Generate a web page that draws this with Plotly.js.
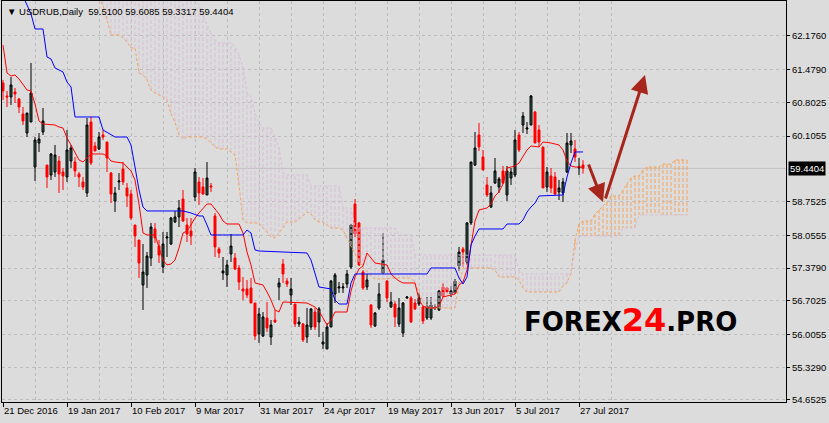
<!DOCTYPE html>
<html><head><meta charset="utf-8">
<script src="https://cdn.plot.ly/plotly-3.0.1.min.js"></script>
<style>html,body{margin:0;padding:0;background:#dcdcdc;}#chart{width:829px;height:423px;}</style>
</head><body><div id="chart"></div>
<script>
const symbolTitle = 'USDRUB,Daily';
const dateLabels = ['21 Dec 2016','19 Jan 2017','10 Feb 2017','9 Mar 2017','31 Mar 2017','24 Apr 2017','19 May 2017','13 Jun 2017','5 Jul 2017','27 Jul 2017'];
const priceTicks = [62.1760, 61.4790, 60.8025, 60.1055, 58.7525, 58.0555, 57.3790, 56.7025, 56.0055, 55.3290, 54.6525];

const open = [61.205,60.936,60.915,61.019,60.874,60.563,60.171,60.398,59.468,59.964,
 60.191,59.509,59.303,59.365,59.592,59.365,59.262,59.592,59.572,59.324,
 59.159,58.931,60.398,59.902,59.841,60.129,59.985,59.344,58.765,59.159,
 59.427,59.035,58.910,58.269,57.959,57.029,57.236,57.587,58.187,57.835,
 57.401,58.001,57.876,58.332,58.435,58.807,58.269,58.145,58.848,59.159,
 59.055,58.890,59.076,58.456,57.773,57.277,57.236,57.670,57.587,57.381,
 56.947,56.947,56.967,56.657,56.017,55.975,56.347,55.954,56.306,56.988,
 57.463,57.112,56.822,56.636,56.223,56.223,55.954,56.161,56.471,56.265,
 55.810,55.707,56.161,56.843,56.967,56.967,57.050,57.401,58.703,58.311,
 57.298,56.988,56.616,56.182,56.554,57.277,57.112,56.575,56.636,56.223,
 56.037,56.761,56.761,56.657,56.636,56.575,56.347,56.347,56.554,56.513,
 56.988,56.967,56.843,56.864,57.422,57.773,57.505,58.311,59.509,60.129,
 59.675,59.097,58.641,59.138,59.055,59.386,58.890,59.241,59.303,60.129,
 60.336,60.253,60.336,60.605,60.233,59.882,59.055,59.283,59.262,58.952,
 58.931,59.365,59.923,59.841,59.447,59.5100];
const high = [61.267,61.039,61.328,61.101,60.894,60.708,60.584,61.618,60.088,60.171,
 60.687,59.509,59.758,59.923,59.696,59.447,60.233,59.923,59.675,59.365,
 59.262,60.481,60.502,59.985,60.191,60.233,59.985,59.365,59.055,59.344,
 59.572,59.138,58.993,58.269,57.959,57.876,57.711,58.311,58.311,57.959,
 58.125,58.125,58.435,58.559,58.786,58.993,58.414,58.414,59.447,59.262,
 59.241,59.572,59.138,58.518,57.815,57.608,57.546,58.083,57.691,57.443,
 57.195,57.133,57.174,56.657,56.554,56.471,56.678,56.306,56.513,57.174,
 57.567,57.174,57.174,56.636,56.368,56.244,56.554,56.554,56.554,56.575,
 56.058,56.244,57.133,57.277,57.091,57.071,57.339,58.290,58.807,58.332,
 57.339,57.257,56.636,56.471,57.071,58.104,57.133,56.885,56.698,56.761,
 56.678,56.802,56.802,56.740,56.864,56.595,56.781,56.781,56.636,56.926,
 57.071,56.988,57.009,57.153,57.815,57.815,58.332,59.572,60.191,60.378,
 59.820,59.262,59.076,59.654,59.262,59.489,59.489,59.447,60.233,60.191,
 60.605,60.398,60.956,60.626,60.336,59.882,59.468,59.447,59.365,59.200,
 59.241,60.171,60.171,60.026,59.654,59.6085];
const low = [60.853,60.708,60.750,60.791,60.584,60.336,60.088,60.398,59.179,59.779,
 60.129,59.035,59.200,59.262,58.931,58.993,59.159,59.447,59.262,59.055,
 58.993,58.848,59.509,59.799,59.820,60.026,59.365,58.724,58.538,58.993,
 59.097,58.641,58.373,57.815,57.174,56.513,56.967,57.422,57.897,57.484,
 57.277,57.608,57.856,58.311,58.228,58.332,57.918,57.856,58.765,58.683,
 58.890,58.890,58.952,57.608,57.587,57.133,56.988,57.505,57.339,56.926,
 56.719,56.761,56.657,55.893,55.831,55.954,56.058,55.789,56.244,56.719,
 57.071,56.988,56.616,56.161,56.161,55.851,55.831,56.099,56.099,55.954,
 55.707,55.707,56.161,56.657,56.864,56.864,56.967,57.360,58.021,57.422,
 56.926,56.926,56.141,56.161,56.513,57.277,56.678,56.554,56.161,56.161,
 55.954,56.740,56.244,56.513,56.595,56.223,56.306,56.306,56.513,56.492,
 56.781,56.864,56.781,56.843,57.318,57.401,57.443,58.269,59.489,59.799,
 59.406,58.848,58.621,59.117,58.931,59.117,58.765,59.097,59.262,59.779,
 60.171,60.150,60.336,59.964,59.882,59.035,58.952,58.931,58.890,58.786,
 58.745,59.344,59.758,59.572,59.303,59.3317];
const close = [61.039,60.915,61.164,60.977,60.708,60.419,60.584,60.998,60.026,60.047,
 60.419,59.262,59.737,59.716,59.324,59.283,59.820,59.861,59.386,59.262,
 59.055,60.336,59.551,59.799,60.088,60.088,59.654,58.910,58.931,59.179,
 59.159,58.869,58.414,58.042,57.484,57.298,57.629,58.228,58.001,57.649,
 57.876,58.021,58.414,58.435,58.621,58.352,58.083,58.042,59.365,58.931,
 58.910,59.241,59.055,57.815,57.691,57.318,57.443,57.835,57.360,57.091,
 56.905,56.822,56.657,55.975,56.430,56.368,56.141,56.203,56.265,57.071,
 57.257,57.050,56.947,56.223,56.265,55.893,56.203,56.534,56.161,56.534,
 55.851,56.161,57.112,57.236,56.988,56.988,57.257,58.269,58.083,57.443,
 56.967,57.133,56.203,56.451,56.843,57.546,56.761,56.678,56.368,56.554,
 56.657,56.781,56.265,56.534,56.761,56.285,56.595,56.616,56.575,56.905,
 56.802,56.885,56.905,57.112,57.711,57.711,58.311,59.572,59.861,59.882,
 59.406,58.890,58.931,59.386,59.221,59.138,59.386,59.365,60.026,59.820,
 60.522,60.274,60.936,59.964,59.985,59.035,59.365,59.035,58.910,59.035,
 59.159,59.964,60.005,59.675,59.468,59.4404];

// Tenkan-sen (red) : bar index / value at each vertex
const tenkanBar = [0,1,2,3,4,5,6,7,8,9,10, 13,14,15,16,17,18,19,20,21,22, 25,26,27,28, 30,31,32,33,34,35,36,
 38,39,40,41,42,43,44,45,46,47,48,49,50,51,52,53,54,55,56, 59,60,61,62,63,64,65,66,67,68,69,70,
 76,77,78,79,80,81,82,83, 86,87,88,89,90,91,92,93, 96,97,98,99,100, 103,104,105,106, 108,109,110,
 112,113,114,115,116,117,118,119, 121,122,123,124,125,126, 128,129,130,131,132, 134,135, 137, 139,140,141,142,143, 145];
const tenkanVal = [61.990,61.411,61.349,61.370,61.287,61.184,61.060,61.039,60.770,60.419,60.357,
 60.336,60.295,60.274,60.067,59.923,59.779,59.613,59.572,59.654,59.737,
 59.737,59.696,59.592,59.572,
 59.551,59.468,59.386,59.200,58.703,58.104,58.063,
 58.063,57.794,57.546,57.443,57.463,57.546,57.794,58.104,58.145,58.269,58.414,58.518,58.621,58.703,58.703,58.600,58.497,58.352,58.290,
 58.290,58.104,57.711,57.443,57.071,57.050,57.029,56.885,56.719,56.513,56.471,56.678,
 56.657,56.616,56.575,56.492,56.347,56.203,56.306,56.471,
 56.471,56.905,57.195,57.360,57.422,57.691,57.587,57.484,
 57.443,57.257,57.174,57.112,57.071,
 57.071,56.719,56.595,56.554,
 56.554,56.595,56.781,
 56.822,56.843,57.029,57.091,57.339,57.856,58.352,58.580,
 58.621,58.703,58.869,58.952,59.117,59.447,
 59.489,59.551,59.675,59.820,59.902,
 59.882,59.985, 59.964, 59.923,59.820,59.592,59.489,59.468, 59.468];

// Kijun-sen (blue)
const kijunBar = [0,4,5,6,7,8,10, 11,12,13,15,16,17,18, 24,25,28,31,32,33,34,35,36, 45,47,49,50,51,52,
 60,61,62,63,64, 76,77,78,79, 82,83,84,86,87,88, 106,107,113,114,115,116,117,118,119,
 125,126,129,130,131,132,133,134, 140,141,142,143,145];
const kijunVal = [63.35,63.2,63.003,62.817,62.631,62.321,62.321,
 61.742,61.701,61.515,61.432,61.225,61.122,60.502,
 60.502,60.233,60.088,60.088,59.923,59.468,58.993,58.641,58.559,
 58.559,58.518,58.456,58.456,58.269,58.063,
 58.063,58.166,58.104,57.753,57.732,
 57.691,57.546,57.277,56.988,
 56.947,56.719,56.636,56.636,57.071,57.257,
 57.257,57.381,57.381,57.174,57.050,57.195,57.856,58.042,58.187,
 58.187,58.290,58.290,58.373,58.538,58.641,58.724,58.869,
 58.890,59.262,59.551,59.779,59.779];

// Senkou spans, one value per bar starting at bar 20 (cloud runs 26 bars past the last candle)
const spanStartBar = 20;
const spanA = [63.4,63.4,63.4,63.2,62.95,62.817,62.507,62.197,62.197,62.197,
 62.135,62.052,61.928,61.928,61.411,61.370,61.267,61.060,60.998,60.956,
 60.915,60.853,60.563,60.398,60.129,60.047,60.088,60.088,60.088,60.088,
 60.088,60.047,59.964,59.882,59.841,59.841,59.841,59.779,59.716,59.097,
 58.373,58.311,58.311,58.311,58.311,58.207,58.125,58.021,58.001,58.104,
 58.228,58.332,58.332,58.332,58.394,58.456,58.538,58.497,58.373,58.332,
 58.332,58.269,58.207,58.207,58.207,58.166,58.001,57.856,57.691,57.505,
 57.401,57.298,57.215,57.153,57.153,57.153,57.153,57.174,57.174,57.174,
 57.174,57.174,57.174,57.071,56.885,56.678,56.554,56.554,56.554,56.554,
 56.554,56.554,56.554,56.554,57.029,57.381,57.381,57.381,57.381,57.381,
 57.381,57.381,57.381,57.339,57.195,57.195,57.195,57.195,57.195,57.133,
 56.967,56.885,56.885,56.885,56.885,56.885,56.885,56.885,56.885,56.885,
 57.009,57.071,57.277,57.959,58.290,58.352,58.352,58.352,58.497,58.580,
 58.641,58.745,58.869,58.869,58.869,58.993,59.117,59.241,59.283,59.283,
 59.406,59.468,59.468,59.468,59.468,59.530,59.530,59.530,59.613,59.613,
 59.613,59.613];
const spanB = [63.4,63.4,63.4,63.4,63.4,63.4,63.4,63.4,63.4,63.4,
 63.4,63.4,63.4,63.4,63.4,63.4,63.4,63.4,63.4,63.4,
 63.4,63.4,63.4,63.4,63.4,63.4,63.4,63.4,62.95,62.817,
 62.610,62.403,62.238,62.093,62.031,62.031,62.031,62.031,61.949,61.783,
 61.535,60.998,60.915,60.584,60.378,60.274,60.274,60.274,60.088,59.882,
 59.344,59.303,59.303,59.303,59.303,59.303,59.303,59.076,59.076,59.076,
 59.076,59.076,59.076,59.076,59.076,58.621,58.621,58.621,58.207,58.207,
 58.207,58.207,58.207,58.207,58.207,58.207,58.207,58.207,58.207,58.063,
 58.063,58.063,58.063,57.649,57.649,57.649,57.649,57.649,57.649,57.649,
 57.649,57.649,57.649,57.649,57.649,57.649,57.649,57.649,57.649,57.649,
 57.649,57.649,57.649,57.649,57.649,57.649,57.649,57.649,57.649,57.339,
 57.257,57.257,57.257,57.257,57.257,57.257,57.257,57.257,57.257,57.257,
 57.257,57.257,57.257,57.753,58.042,58.042,58.042,58.042,58.042,58.042,
 58.042,58.042,58.042,58.042,58.042,58.207,58.207,58.207,58.207,58.476,
 58.476,58.476,58.476,58.476,58.476,58.476,58.476,58.476,58.476,58.476,
 58.476,58.476];

const bars = close.map((_, i) => i);
const spanBars = spanA.map((_, k) => spanStartBar + k);
const last = close.length - 1;

// cloud hatch: one dashed vertical segment per bar between the spans
const hatch = {pink: {x: [], y: []}, orange: {x: [], y: []}};
spanBars.forEach((b, k) => {
  const g = spanB[k] >= spanA[k] ? hatch.pink : hatch.orange;
  g.x.push(b, b, null); g.y.push(spanA[k], spanB[k], null);
});

const traces = [
  {type:'scatter', mode:'lines', x: hatch.pink.x, y: hatch.pink.y, hoverinfo:'skip',
   line:{color:'#D8BFD8', width:1, dash:'4px,2px'}},
  {type:'scatter', mode:'lines', x: hatch.orange.x, y: hatch.orange.y, hoverinfo:'skip',
   line:{color:'#F4A460', width:1, dash:'4px,2px'}},
  {type:'scatter', mode:'lines', x: spanBars, y: spanA, hoverinfo:'skip',
   line:{color:'#F4A460', width:1, dash:'3px,2px'}},
  {type:'scatter', mode:'lines', x: spanBars, y: spanB, hoverinfo:'skip',
   line:{color:'#D8BFD8', width:1, dash:'3px,2px'}},
  {type:'candlestick', x: bars, open: open, high: high, low: low, close: close,
   increasing:{line:{color:'#000000', width:1}, fillcolor:'#2F5D4F'},
   decreasing:{line:{color:'#FF0000', width:1}, fillcolor:'#FF0000'}, hoverinfo:'skip'},
  {type:'scatter', mode:'lines', x: tenkanBar, y: tenkanVal, hoverinfo:'skip',
   line:{color:'#FF0000', width:1}},
  {type:'scatter', mode:'lines', x: kijunBar, y: kijunVal, hoverinfo:'skip',
   line:{color:'#0000FF', width:1}}
];

const majorBars = dateLabels.map((_, k) => 16 * k);
const minorBars = dateLabels.map((_, k) => 16 * k + 8);
const gridColor = '#bdbdbd';
const fmt = v => v.toFixed(4);
const nb = '\u00a0';

const layout = {
  width: 829, height: 423,
  margin: {l: 2, r: 43, t: 1, b: 21, pad: 0},
  paper_bgcolor: '#dcdcdc', plot_bgcolor: '#dcdcdc',
  showlegend: false,
  font: {family: 'Liberation Sans, DejaVu Sans, sans-serif', size: 9.5, color: '#000'},
  xaxis: {
    range: [-0.25, 195.75], fixedrange: true,
    tickmode: 'array', tickvals: majorBars, ticktext: dateLabels,
    ticks: 'outside', ticklen: 4, tickcolor: '#000', tickwidth: 1,
    ticklabelposition: 'outside right',
    showline: true, linecolor: '#000', linewidth: 1, mirror: true,
    showgrid: true, gridcolor: gridColor, griddash: '3px,3px', gridwidth: 1,
    minor: {tickmode: 'array', tickvals: minorBars, showgrid: true, gridcolor: gridColor, griddash: '3px,3px', ticks: ''},
    zeroline: false, rangeslider: {visible: false}
  },
  yaxis: {
    side: 'right', range: [54.611, 62.899], fixedrange: true,
    tickmode: 'array', tickvals: priceTicks, ticktext: priceTicks.map(fmt),
    ticks: 'outside', ticklen: 3, tickcolor: '#000',
    showline: true, linecolor: '#000', linewidth: 1, mirror: true,
    showgrid: true, gridcolor: gridColor, griddash: '3px,3px',
    zeroline: false
  },
  shapes: [
    {type: 'line', xref: 'paper', x0: 0, x1: 1, yref: 'y', y0: close[last], y1: close[last],
     line: {color: '#c0c0c0', width: 1}, layer: 'below'}
  ],
  annotations: [
    {xref: 'paper', yref: 'paper', x: 0, y: 1, xanchor: 'left', yanchor: 'top', xshift: 3, yshift: -3,
     showarrow: false, align: 'left',
     text: '▼' + nb + symbolTitle + nb + nb + fmt(open[last]) + ' ' + fmt(high[last]) + ' ' + fmt(low[last]) + ' ' + fmt(close[last]),
     font: {size: 9.5, color: '#000'}},
    {xref: 'paper', yref: 'y', x: 1, y: close[last], xanchor: 'left', yanchor: 'middle', xshift: 2,
     showarrow: false, text: fmt(close[last]), bgcolor: '#000', borderpad: 1,
     font: {size: 9.5, color: '#fff'}},
    {xref: 'paper', yref: 'paper', x: 0.802, y: 0.205, xanchor: 'center', yanchor: 'middle',
     showarrow: false,
     text: 'FOREX<span style="color:#ff0000;font-size:32px">24</span>.PRO',
     font: {family: 'DejaVu Sans', size: 26, weight: 'bold', color: '#000'}},
    {xref: 'x', yref: 'y', axref: 'x', ayref: 'y', x: 150, y: 58.745, ax: 146.25, ay: 59.551,
     showarrow: true, text: '', arrowhead: 2, arrowsize: 1.2, arrowwidth: 3, arrowcolor: '#A8251C'},
    {xref: 'x', yref: 'y', axref: 'x', ayref: 'y', x: 160.5, y: 61.37, ax: 150.5, ay: 58.786,
     showarrow: true, text: '', arrowhead: 2, arrowsize: 1.2, arrowwidth: 3, arrowcolor: '#A8251C'}
  ]
};

Plotly.newPlot('chart', traces, layout, {staticPlot: true, displayModeBar: false});
</script>
</body></html>
